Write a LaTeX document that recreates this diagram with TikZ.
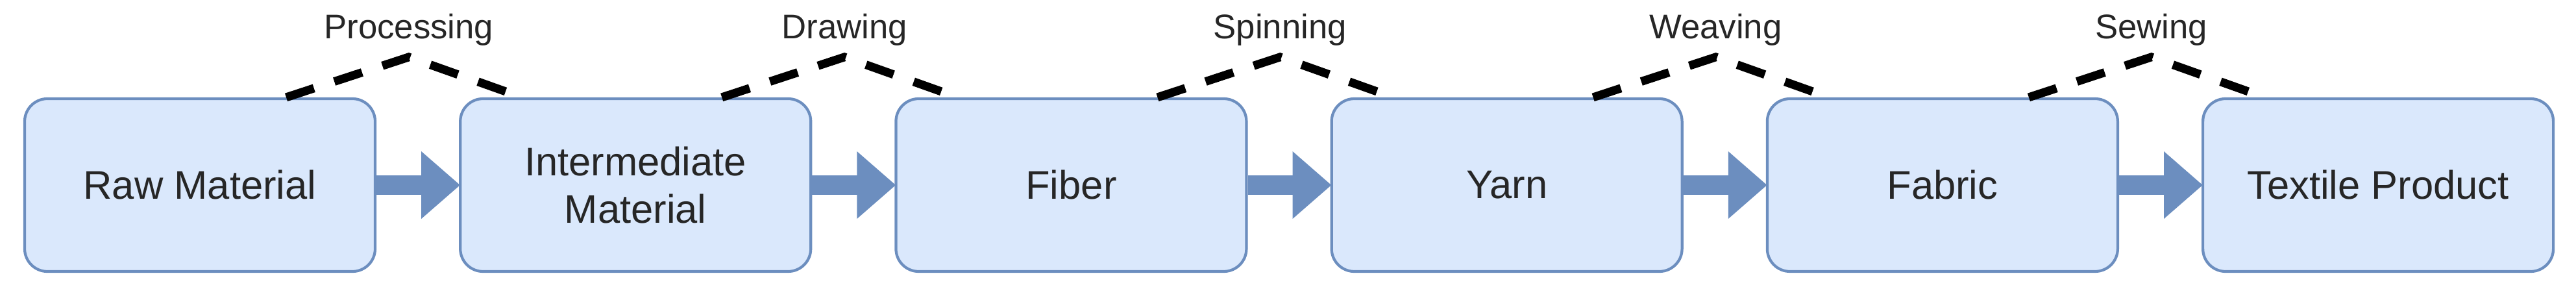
\documentclass[tikz,border=0pt]{standalone}
\usepackage{fontspec}
\setmainfont{Liberation Sans}
\usetikzlibrary{positioning,calc,arrows.meta}
\definecolor{boxfill}{HTML}{DAE8FC}
\definecolor{boxline}{HTML}{6C8EBF}
\tikzset{
    stage/.style={draw=boxline, fill=boxfill, line width=1.2pt, rounded corners=0.35cm,
        minimum width=5.40cm, minimum height=2.66cm, align=center,
        font=\fontsize{17.5}{21}\selectfont, text=black!85},
    flow/.style={draw=boxline, line width=0.3cm, -{Triangle[length=0.6cm, width=1.0cm]}, shorten >=-0.02cm},
    process/.style={draw=black, line width=0.13cm, dash pattern=on 0.45cm off 0.33cm},
    processlabel/.style={font=\fontsize{15}{18}\selectfont, text=black!85}
}
\begin{document}
\begin{tikzpicture}
    \useasboundingbox (0,0) rectangle (39.69,4.65);

    % Stages
    \node[stage] at (3.08,1.80) (raw) {Raw Material};
    \node[stage, right=1.27cm of raw] (inter) {Intermediate\\Material};
    \node[stage, right=1.27cm of inter] (fiber) {Fiber};
    \node[stage, right=1.27cm of fiber] (yarn) {Yarn};
    \node[stage, right=1.27cm of yarn] (fabric) {Fabric};
    \node[stage, right=1.27cm of fabric] (product) {Textile Product};

    % Flow arrows
    \draw[flow] (raw) -- (inter);
    \draw[flow] (inter) -- (fiber);
    \draw[flow] (fiber) -- (yarn);
    \draw[flow] (yarn) -- (fabric);
    \draw[flow] (fabric) -- (product);

    % Process steps
    \foreach \a/\b/\t [count=\i] in {raw/inter/Processing, inter/fiber/Drawing, fiber/yarn/Spinning, yarn/fabric/Weaving, fabric/product/Sewing} {
        \coordinate (s\i) at ($(\a.north)+(1.33,0)$);
        \coordinate (e\i) at ($(\b.north)+(-1.75,0)$);
        \coordinate (p\i) at ($(s\i)!0.52!(e\i)+(0,0.62)$);
        \node[processlabel] at ($(p\i)+(0,0.42)$) (l\i) {\t};
        \draw[process] (s\i) -- (p\i) -- (e\i);
    }
\end{tikzpicture}
\end{document}
